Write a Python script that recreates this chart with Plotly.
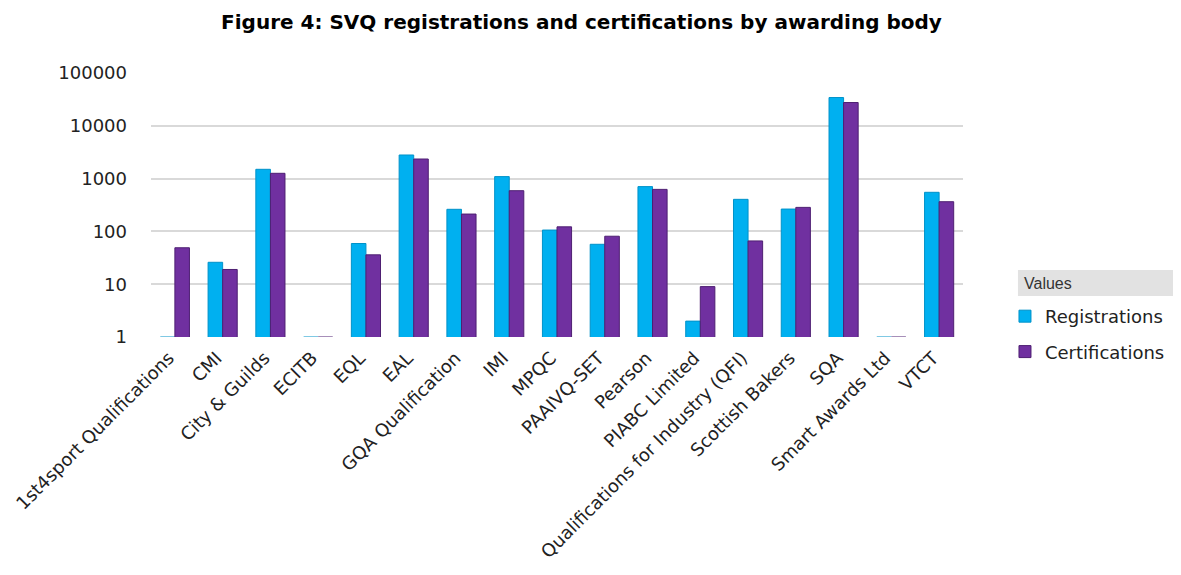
import plotly.graph_objects as go

bodies = ["1st4sport Qualifications", "CMI", "City & Guilds", "ECITB", "EQL", "EAL",
          "GQA Qualification", "IMI", "MPQC", "PAAIVQ-SET", "Pearson", "PIABC Limited",
          "Qualifications for Industry (QFI)", "Scottish Bakers", "SQA", "Smart Awards Ltd", "VTCT"]
registrations = [1, 26, 1500, 1, 59, 2800, 262, 1090, 106, 57, 705, 2, 405, 265, 34300, 1, 550]
certifications = [49, 19, 1260, 1, 36, 2350, 213, 590, 122, 81, 625, 9, 66, 285, 27600, 1, 365]
y_tickvals = [1, 10, 100, 1000, 10000, 100000]
y_ticktext = ["1", "10", "100", "1000", "10000", "100000"]

FONT = "DejaVu Sans, Liberation Sans, Arial, sans-serif"

fig = go.Figure()
fig.add_trace(go.Bar(name="Registrations", x=bodies, y=registrations, legendgroup="r",
                     marker=dict(color="#00B0F0", line=dict(color="#0092C9", width=1))))
fig.add_trace(go.Bar(name="Certifications", x=bodies, y=certifications, legendgroup="c",
                     marker=dict(color="#7030A0", line=dict(color="#4E1F72", width=1))))

fig.update_layout(
    width=1181, height=575,
    margin=dict(l=143, r=226, t=65, b=246, autoexpand=False),
    paper_bgcolor="white", plot_bgcolor="white",
    font=dict(family=FONT, color="#222222"),
    title=dict(text="<b>Figure 4: SVQ registrations and certifications by awarding body</b>",
               x=0.4856, xanchor="center", y=0.9757, yanchor="middle",
               font=dict(family=FONT, size=20, color="#000000")),
    barmode="group", bargap=0.39, bargroupgap=0.0,
    showlegend=True,
    legend=dict(x=1.0517, xanchor="left", y=0.1478, yanchor="top",
                font=dict(family=FONT, size=18, color="#222222"),
                bgcolor="rgba(0,0,0,0)", tracegroupgap=9, traceorder="grouped"),
)
fig.add_shape(type="rect", xref="paper", yref="paper",
              x0=1.0677, x1=1.28, y0=0.1553, y1=0.2538,
              fillcolor="#E2E2E2", line=dict(width=0), layer="below")
fig.add_annotation(text="Values", xref="paper", yref="paper", x=1.0727, y=0.2045,
                   xanchor="left", yanchor="middle", showarrow=False,
                   font=dict(family="Liberation Sans, Arial, sans-serif", size=16, color="#333333"))
fig.update_xaxes(tickangle=-45, tickfont=dict(family=FONT, size=18, color="#222222"),
                 showline=False, showgrid=False, ticks="", ticklabelstandoff=6,
                 ticklabelshift=-6, automargin=False)
fig.update_yaxes(type="log", range=[0, 5], tickvals=y_tickvals, ticktext=y_ticktext,
                 tickfont=dict(family=FONT, size=18, color="#222222"), showgrid=True,
                 gridcolor="#D9D9D9", gridwidth=2, zeroline=False, showline=False,
                 ticks="", ticklabelstandoff=23, automargin=False)

fig.write_html("out.html")
